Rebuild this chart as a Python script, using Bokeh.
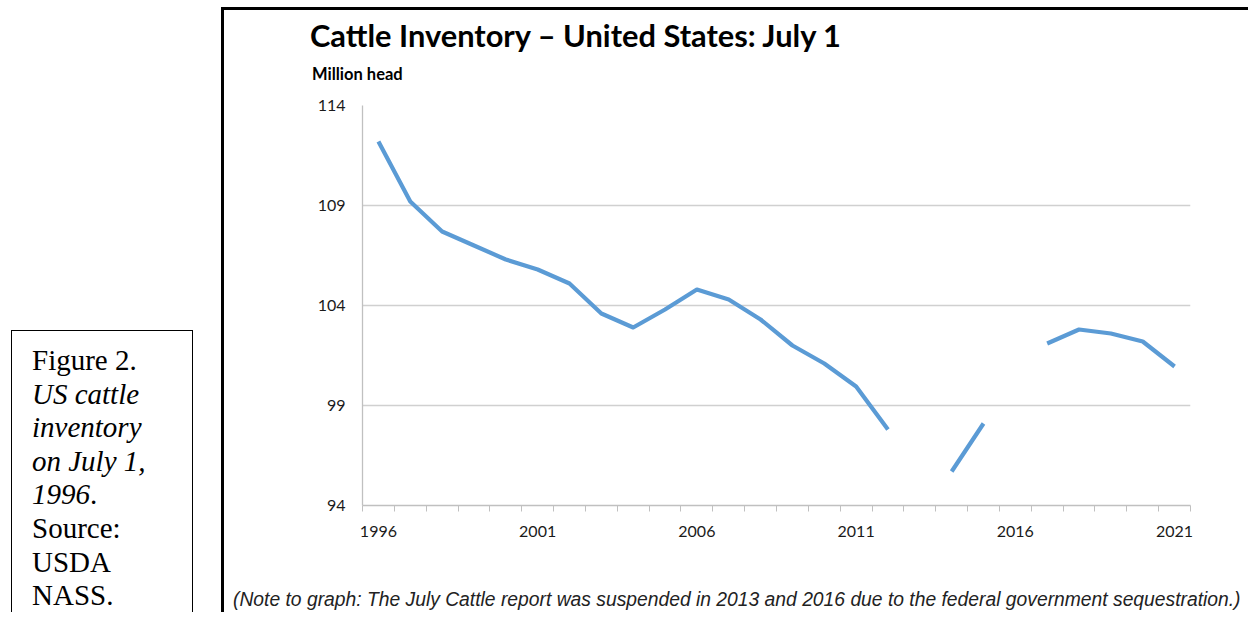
import math
from bokeh.plotting import figure
from bokeh.models import Range1d, FixedTicker, Div
from bokeh.layouts import row, column
from bokeh.embed import file_html
from bokeh.resources import INLINE

nan = math.nan
years = list(range(1996, 2022))
inventory = [112.2, 109.2, 107.7, 107.0, 106.3, 105.8, 105.1, 103.6, 102.9, 103.8,
             104.8, 104.3, 103.3, 102.0, 101.1, 99.95, 97.8, nan, 95.7, 98.1,
             nan, 102.1, 102.8, 102.6, 102.2, 100.95]
y_ticks = [94, 99, 104, 109, 114]
x_label_years = [1996, 2001, 2006, 2011, 2016, 2021]
title_text = "Cattle Inventory &ndash; United States: July 1"
unit_text = "Million head"
note_text = ("(Note to graph: The July Cattle report was suspended in 2013 and 2016 "
             "due to the federal government sequestration.)")

# ---- header (title + unit) ----
header = Div(
    text=(
        '<div style="position:relative;box-sizing:border-box;width:1027px;height:78px;'
        'border-top:3px solid #000;border-left:3px solid #000;background:#fff;">'
        '<div style="position:absolute;left:86px;top:11px;font-family:Lato;font-weight:bold;'
        'font-size:30.8px;line-height:30px;white-space:nowrap;color:#000;">' + title_text + '</div>'
        '<div style="position:absolute;left:88px;top:56px;font-family:Lato;font-weight:bold;'
        'font-size:16.5px;line-height:16px;white-space:nowrap;color:#000;">' + unit_text + '</div>'
        '</div>'
    ),
    width=1027, height=78, margin=(7, 0, 0, 0))

# ---- chart ----
p = figure(width=1024, height=502, output_backend="svg", toolbar_location=None, title=None,
           x_range=Range1d(1995.5, 2021.5), y_range=Range1d(94, 114),
           min_border_left=138, min_border_right=58, min_border_top=20, min_border_bottom=82,
           margin=(0, 0, 0, 0))
p.styles = {"border-left": "3px solid #000"}
p.outline_line_color = None
p.background_fill_color = "white"
p.border_fill_color = "white"

p.line(years, inventory, line_color="#5b9bd5", line_width=4.2, line_join="round")

p.xgrid.grid_line_color = None
p.ygrid.ticker = FixedTicker(ticks=y_ticks)
p.ygrid.grid_line_color = "#d0d0d0"
p.ygrid.grid_line_width = 1.3

xa = p.xaxis[0]
xa.ticker = FixedTicker(ticks=x_label_years, minor_ticks=[y - 0.5 for y in years] + [years[-1] + 0.5])
xa.axis_line_color = "#c0c0c0"
xa.axis_line_width = 1.3
xa.major_tick_line_color = None
xa.major_tick_out = 0
xa.major_tick_in = 0
xa.minor_tick_line_color = "#c0c0c0"
xa.minor_tick_out = 6
xa.minor_tick_in = 0
xa.major_label_standoff = 14
xa.major_label_text_font = "Lato"
xa.major_label_text_font_size = "16px"
xa.major_label_text_color = "#1a1a1a"

ya = p.yaxis[0]
ya.ticker = FixedTicker(ticks=y_ticks)
ya.axis_line_color = "#c0c0c0"
ya.axis_line_width = 1.3
ya.major_tick_line_color = None
ya.major_tick_out = 0
ya.major_tick_in = 0
ya.minor_tick_line_color = None
ya.major_label_standoff = 17
ya.major_label_text_font = "Lato"
ya.major_label_text_font_size = "16px"
ya.major_label_text_color = "#1a1a1a"

# ---- note ----
note = Div(
    text=(
        '<div style="box-sizing:border-box;width:1027px;height:25px;border-left:3px solid #000;'
        'padding-left:9px;font-family:\'Liberation Sans\';font-style:italic;font-size:19.3px;'
        'line-height:25px;white-space:nowrap;color:#222;background:#fff;">' + note_text + '</div>'
    ),
    width=1027, height=25, margin=(0, 0, 0, 0))

# ---- caption box ----
caption_html = (
    '<div style="box-sizing:border-box;width:182px;height:282px;border:1px solid #000;'
    'border-bottom:none;padding:13px 0 0 20px;font-family:\'Liberation Serif\',serif;'
    'font-size:29px;line-height:33.6px;color:#000;">'
    'Figure 2.<br><i>US cattle<br>inventory<br>on July 1,<br>1996</i>.<br>'
    'Source:<br>USDA<br>NASS.</div>'
)
caption = Div(text=caption_html, width=182, height=282, margin=(330, 28, 0, 11))

layout = row(caption, column(header, p, note, spacing=0), spacing=0)
open("out.html", "w", encoding="utf-8").write(file_html(layout, INLINE))
